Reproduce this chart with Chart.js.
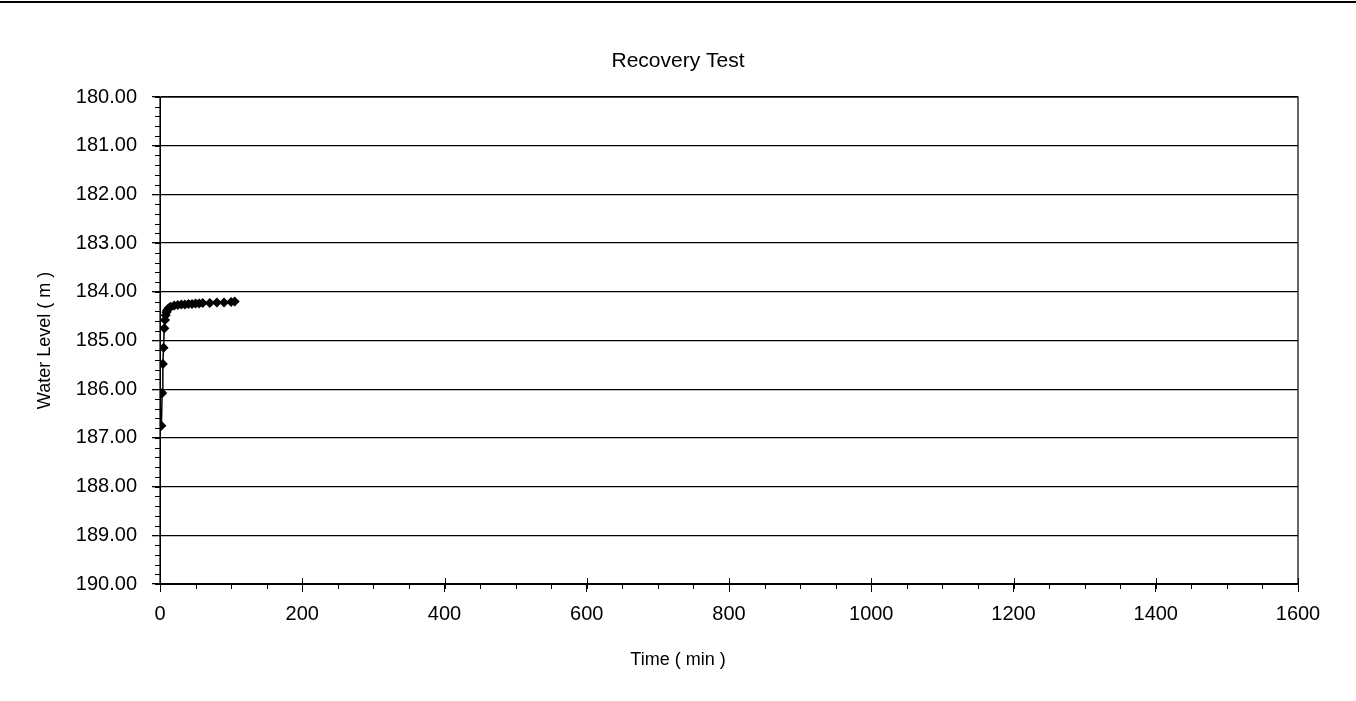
<!DOCTYPE html>
<html>
<head>
<meta charset="utf-8">
<title>Recovery Test</title>
<script src="https://cdn.jsdelivr.net/npm/chart.js@4.4.1/dist/chart.umd.min.js"></script>
<style>
  html, body { margin: 0; padding: 0; background: #fff; }
  #wrap { width: 1356px; height: 701px; position: relative; }
</style>
</head>
<body>
<div id="wrap"><canvas id="chart"></canvas></div>
<script>
// recovery readings, time in minutes since pump stop
const timeMin = [2, 3, 4, 5, 6, 7, 8, 9, 10, 12, 15, 20, 25, 30, 35, 40, 45, 50, 55, 60, 70, 80, 90, 100, 105];
const waterLevel = [186.75, 186.08, 185.48, 185.15, 184.75, 184.58, 184.48, 184.42, 184.38, 184.34, 184.31, 184.28,
  184.27, 184.26, 184.26, 184.25, 184.25, 184.24, 184.24, 184.23, 184.23, 184.22, 184.22, 184.21, 184.20];

const yTicks = [180, 181, 182, 183, 184, 185, 186, 187, 188, 189, 190];
const xTicks = [0, 200, 400, 600, 800, 1000, 1200, 1400, 1600];

const chartTitle = 'Recovery Test';
const xTitle = 'Time ( min )';

const FONT = "'Liberation Sans', Arial, sans-serif";

const points = timeMin.map((t, i) => ({ x: t, y: waterLevel[i] }));

// box, minor ticks, page-centred titles and the frame line of the scan
const decor = {
  id: 'decor',
  afterDraw(chart) {
    const { ctx, chartArea: a, scales: { x, y } } = chart;
    ctx.save();
    ctx.strokeStyle = '#000';
    ctx.lineWidth = 1.2;
    ctx.strokeRect(a.left, a.top, a.right - a.left, a.bottom - a.top);

    ctx.lineWidth = 1;
    ctx.beginPath();
    // y minor ticks every 0.2
    for (let v = 180; v <= 190.001; v += 0.2) {
      const py = Math.round(y.getPixelForValue(v)) + 0.5;
      ctx.moveTo(a.left - 5, py);
      ctx.lineTo(a.left, py);
    }
    // x minor ticks every 50
    for (let v = 0; v <= 1600; v += 50) {
      const px = Math.round(x.getPixelForValue(v)) + 0.5;
      ctx.moveTo(px, a.bottom);
      ctx.lineTo(px, a.bottom + 5);
    }
    // major x ticks cross the axis
    xTicks.forEach(v => {
      const px = Math.round(x.getPixelForValue(v)) + 0.5;
      ctx.moveTo(px, a.bottom - 6);
      ctx.lineTo(px, a.bottom);
    });
    ctx.stroke();

    ctx.lineWidth = 2;
    ctx.beginPath();
    ctx.moveTo(0, 2);
    ctx.lineTo(chart.width, 2);
    ctx.stroke();

    ctx.fillStyle = '#000';
    ctx.textAlign = 'center';
    ctx.textBaseline = 'middle';
    ctx.font = `21px ${FONT}`;
    ctx.fillText(chartTitle, chart.width / 2, 61);
    ctx.font = `18px ${FONT}`;
    ctx.fillText(xTitle, chart.width / 2, 660);
    ctx.restore();
  }
};

new Chart(document.getElementById('chart'), {
  type: 'scatter',
  data: {
    datasets: [{
      label: 'Water Level',
      data: points,
      showLine: true,
      borderColor: '#000',
      borderWidth: 1.5,
      backgroundColor: '#000',
      pointStyle: 'rectRot',
      pointRadius: 4,
      pointBorderColor: '#000',
      pointBackgroundColor: '#000'
    }]
  },
  options: {
    responsive: true,
    maintainAspectRatio: false,
    animation: false,
    layout: { padding: { left: 0, right: 58, top: 97, bottom: 0 } },
    plugins: {
      legend: { display: false },
      tooltip: { enabled: false },
      title: { display: false }
    },
    scales: {
      x: {
        type: 'linear',
        min: 0,
        max: 1600,
        afterFit: s => { s.height = 117; },
        afterBuildTicks: s => { s.ticks = xTicks.map(v => ({ value: v })); },
        ticks: {
          color: '#000',
          padding: 10,
          maxRotation: 0,
          font: { family: FONT, size: 20 },
          callback: v => String(v)
        },
        grid: { drawOnChartArea: false, color: '#000', tickLength: 8 },
        border: { color: '#000' }
      },
      y: {
        type: 'linear',
        reverse: true,
        min: 180,
        max: 190,
        afterFit: s => { s.width = 160; },
        afterBuildTicks: s => { s.ticks = yTicks.map(v => ({ value: v })); },
        ticks: {
          color: '#000',
          padding: 15,
          font: { family: FONT, size: 20 },
          callback: v => v.toFixed(2)
        },
        grid: { color: '#000', lineWidth: 1.3, tickLength: 8 },
        border: { color: '#000' },
        title: {
          display: true,
          text: 'Water Level ( m )',
          color: '#000',
          font: { family: FONT, size: 18 },
          padding: { top: 34, bottom: 0 }
        }
      }
    }
  },
  plugins: [decor]
});
</script>
</body>
</html>
